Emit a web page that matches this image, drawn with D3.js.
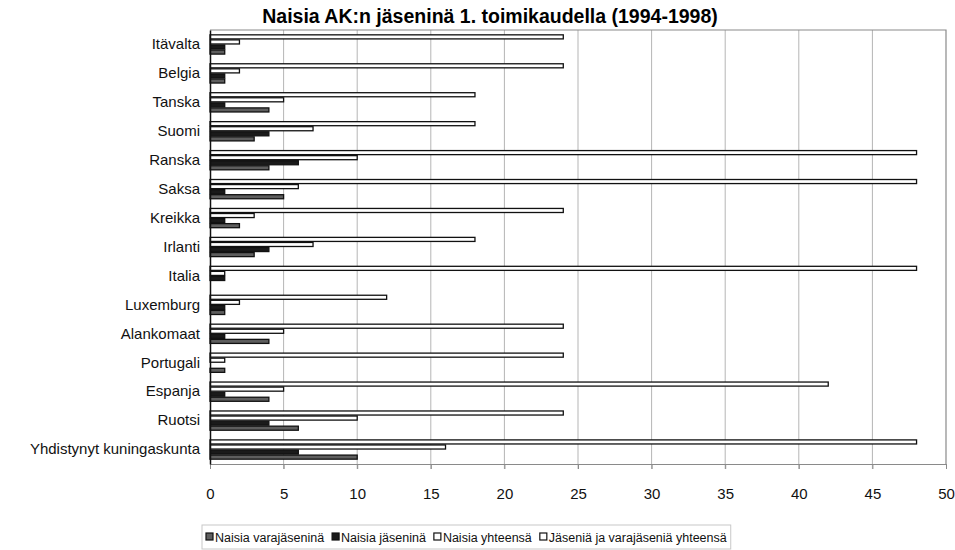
<!DOCTYPE html>
<html>
<head>
<meta charset="utf-8">
<script src="https://cdn.jsdelivr.net/npm/d3@7"></script>
<style>
  body { margin: 0; background: #fff; }
  svg { display: block; font-family: "Liberation Sans", Arial, sans-serif; }
</style>
</head>
<body>
<svg id="chart" width="955" height="550"></svg>
<script>
// Maat (AK:n jäsenvaltiot)
const countries = ["Itävalta", "Belgia", "Tanska", "Suomi", "Ranska", "Saksa", "Kreikka",
  "Irlanti", "Italia", "Luxemburg", "Alankomaat", "Portugali", "Espanja", "Ruotsi",
  "Yhdistynyt kuningaskunta"];

// Sarjat
const naisiaVarajasenina = [1, 1, 4, 3, 4, 5, 2, 3, 0, 1, 4, 1, 4, 6, 10];
const naisiaJasenina     = [1, 1, 1, 4, 6, 1, 1, 4, 1, 1, 1, 0, 1, 4, 6];
const naisiaYhteensa     = [2, 2, 5, 7, 10, 6, 3, 7, 1, 2, 5, 1, 5, 10, 16];
const jaseniaYhteensa    = [24, 24, 18, 18, 48, 48, 24, 18, 48, 12, 24, 24, 42, 24, 48];

const xTicks = [0, 5, 10, 15, 20, 25, 30, 35, 40, 45, 50];

const series = [
  { key: "Naisia varajäseninä", values: naisiaVarajasenina, fill: "#5e5e5e" },
  { key: "Naisia jäseninä", values: naisiaJasenina, fill: "#1a1a1a" },
  { key: "Naisia yhteensä", values: naisiaYhteensa, fill: "#ffffff" },
  { key: "Jäseniä ja varajäseniä yhteensä", values: jaseniaYhteensa, fill: "#ffffff" }
];
// Within each country, the last series is drawn at the top
const stackOrder = series.slice().reverse().map(s => s.key);

const svg = d3.select("#chart");
const m = { left: 210, right: 946, top: 30, bottom: 464 };

const x = d3.scaleLinear().domain([0, 50]).range([m.left, m.right]);
const y = d3.scaleBand().domain(countries).range([m.top, m.bottom])
  .paddingInner(0.3).paddingOuter(0.15);
const yInner = d3.scaleBand().domain(stackOrder).range([0, y.bandwidth()]);

// Title
svg.append("text")
  .attr("x", 490).attr("y", 23)
  .attr("text-anchor", "middle")
  .attr("font-size", 19.5).attr("font-weight", "bold")
  .text("Naisia AK:n jäseninä 1. toimikaudella (1994-1998)");

// Gridlines
svg.append("g").selectAll("line")
  .data(xTicks.filter(t => t > 0 && t < 50))
  .join("line")
  .attr("x1", d => x(d)).attr("x2", d => x(d))
  .attr("y1", m.top).attr("y2", m.bottom + 5)
  .attr("stroke", "#b5b5b5").attr("stroke-width", 1);

// Plot frame (top and right)
svg.append("path")
  .attr("d", `M${m.left},${m.top}H${m.right}V${m.bottom}`)
  .attr("fill", "none").attr("stroke", "#8a8a8a").attr("stroke-width", 1.2);

// Bars
const groups = svg.append("g").selectAll("g")
  .data(countries)
  .join("g")
  .attr("transform", d => `translate(0,${y(d)})`);

groups.selectAll("rect")
  .data((c, i) => series.map(s => ({ key: s.key, value: s.values[i], fill: s.fill })))
  .join("rect")
  .filter(d => d.value > 0)
  .attr("x", x(0))
  .attr("y", d => yInner(d.key) + 0.5)
  .attr("width", d => x(d.value) - x(0))
  .attr("height", yInner.bandwidth() - 1)
  .attr("fill", d => d.fill)
  .attr("stroke", "#111")
  .attr("stroke-width", 1.3);

// X axis
const xAxis = svg.append("g")
  .attr("transform", `translate(0,${m.bottom})`)
  .call(d3.axisBottom(x).tickValues(xTicks).tickSize(5).tickPadding(19));
xAxis.select(".domain").attr("stroke", "#8a8a8a");
xAxis.selectAll(".tick line").attr("stroke", "#8a8a8a");
xAxis.selectAll("text")
  .attr("font-family", "Liberation Sans, Arial, sans-serif")
  .attr("font-size", 15).attr("fill", "#111");

// Y axis
const yAxis = svg.append("g")
  .attr("transform", `translate(${m.left},0)`)
  .call(d3.axisLeft(y).tickSize(0).tickPadding(10));
yAxis.select(".domain").attr("stroke", "#111").attr("stroke-width", 1.5);
yAxis.selectAll("text")
  .attr("font-family", "Liberation Sans, Arial, sans-serif")
  .attr("font-size", 15).attr("fill", "#111");

// Legend: items laid out one after another
const legend = svg.append("g").attr("transform", "translate(202,525)");
const legendBox = legend.append("rect")
  .attr("x", 0).attr("y", 0).attr("height", 24)
  .attr("fill", "none").attr("stroke", "#c8c8c8");
let cursor = 4;
series.forEach(s => {
  const g = legend.append("g").attr("transform", `translate(${cursor},0)`);
  g.append("rect")
    .attr("x", 0).attr("y", 8).attr("width", 7).attr("height", 7)
    .attr("fill", s.fill).attr("stroke", "#111").attr("stroke-width", 1.2);
  const t = g.append("text")
    .attr("x", 9).attr("y", 17)
    .attr("font-size", 12.5).attr("fill", "#111")
    .text(s.key);
  cursor += 9 + t.node().getComputedTextLength() + 8;
});
legendBox.attr("width", cursor - 4);
</script>
</body>
</html>
